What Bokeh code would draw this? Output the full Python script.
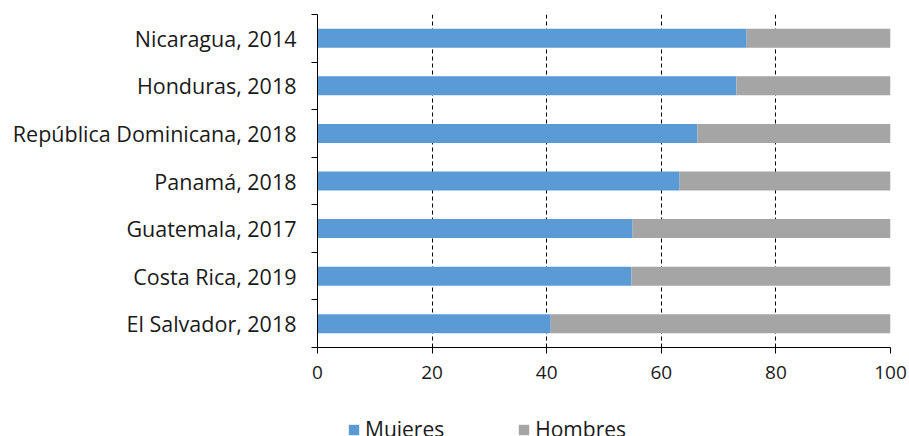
from bokeh.plotting import figure
from bokeh.layouts import column
from bokeh.models import ColumnDataSource, FixedTicker, Legend, LegendItem, Range1d
from bokeh.embed import file_html
from bokeh.resources import INLINE

countries = ["El Salvador, 2018", "Costa Rica, 2019", "Guatemala, 2017", "Panamá, 2018",
             "República Dominicana, 2018", "Honduras, 2018", "Nicaragua, 2014"]
mujeres = [40.7, 54.8, 55.0, 63.2, 66.3, 73.1, 74.9]
hombres = [59.3, 45.2, 45.0, 36.8, 33.7, 26.9, 25.1]
x_ticks = [0, 20, 40, 60, 80, 100]
series_names = ["Mujeres", "Hombres"]
series_colors = ["#5B9BD5", "#A5A5A5"]

ypos = list(range(len(countries)))
h_right = [m + h for m, h in zip(mujeres, hombres)]
src = ColumnDataSource(dict(y=ypos, m=mujeres, h=h_right, zero=[0] * len(ypos)))

FONT = "Open Sans"
p = figure(frame_width=573, frame_height=333, output_backend="svg", toolbar_location=None,
           x_range=Range1d(0, 100), y_range=Range1d(-0.5, len(countries) - 0.5))
p.min_border_left = 317
p.min_border_right = 19
p.min_border_top = 14
p.min_border_bottom = 55
p.outline_line_color = None

p.hbar(y="y", left="zero", right="m", height=0.4, source=src, color=series_colors[0], line_color=None)
p.hbar(y="y", left="m", right="h", height=0.4, source=src, color=series_colors[1], line_color=None)

p.ygrid.grid_line_color = None
p.xgrid.ticker = FixedTicker(ticks=x_ticks[1:])
p.xgrid.grid_line_color = "black"
p.xgrid.grid_line_dash = "4 3"
p.xgrid.grid_line_width = 1

p.xaxis.ticker = FixedTicker(ticks=x_ticks)
p.xaxis.axis_line_color = "black"
p.xaxis.major_tick_line_color = "black"
p.xaxis.major_tick_in = 0
p.xaxis.major_tick_out = 6
p.xaxis.minor_tick_line_color = None
p.xaxis.major_label_standoff = 12
p.xaxis.major_label_text_font = FONT
p.xaxis.major_label_text_font_size = "19px"
p.xaxis.major_label_text_color = "#1a1a1a"

p.yaxis.ticker = FixedTicker(ticks=ypos, minor_ticks=[i - 0.5 for i in range(len(ypos) + 1)])
p.yaxis.major_label_overrides = {i: c for i, c in enumerate(countries)}
p.yaxis.axis_line_color = "black"
p.yaxis.major_tick_line_color = None
p.yaxis.major_tick_in = 0
p.yaxis.major_tick_out = 0
p.yaxis.minor_tick_line_color = "black"
p.yaxis.minor_tick_in = 0
p.yaxis.minor_tick_out = 6
p.yaxis.major_label_standoff = 15
p.yaxis.major_label_text_font = FONT
p.yaxis.major_label_text_font_size = "21.5px"
p.yaxis.major_label_text_color = "#1a1a1a"

# legend strip below the chart
q = figure(width=909, height=70, output_backend="svg", toolbar_location=None,
           x_axis_type=None, y_axis_type=None, x_range=Range1d(0, 1), y_range=Range1d(0, 1))
q.min_border_left = 347
q.min_border_right = 0
q.min_border_top = 13
q.min_border_bottom = 0
q.outline_line_color = None
q.xgrid.grid_line_color = None
q.ygrid.grid_line_color = None
if "frame_align" in p.properties():
    p.frame_align = False
    q.frame_align = False

hidden = ColumnDataSource(dict(y=[-5], l=[0], r=[1]))
items = []
for name, col in zip(series_names, series_colors):
    rr = q.hbar(y="y", left="l", right="r", height=0.4, source=hidden, color=col, line_color=None)
    items.append(LegendItem(label=name, renderers=[rr]))

legend = Legend(items=items, orientation="horizontal", location="top_left")
legend.label_text_font = FONT
legend.label_text_font_size = "21px"
legend.label_text_color = "#1a1a1a"
legend.glyph_width = 13
legend.glyph_height = 13
legend.label_standoff = 5
legend.spacing = 73
legend.padding = 12
legend.margin = 0
legend.border_line_color = None
legend.background_fill_alpha = 0
q.add_layout(legend, "center")

open("out.html", "w").write(file_html(column(p, q, spacing=0), INLINE))
